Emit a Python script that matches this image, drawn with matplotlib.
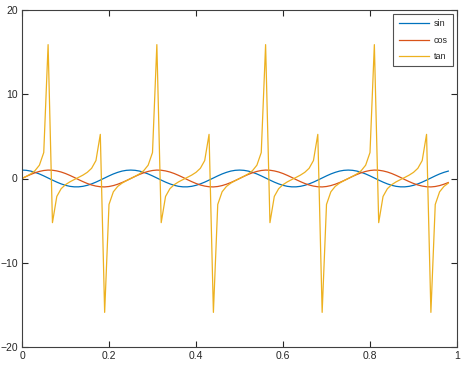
import matplotlib
matplotlib.use("Agg")
import matplotlib.pyplot as plt

x = [0.00, 0.01, 0.02, 0.03, 0.04, 0.05, 0.06, 0.07, 0.08, 0.09,
     0.10, 0.11, 0.12, 0.13, 0.14, 0.15, 0.16, 0.17, 0.18, 0.19,
     0.20, 0.21, 0.22, 0.23, 0.24, 0.25, 0.26, 0.27, 0.28, 0.29,
     0.30, 0.31, 0.32, 0.33, 0.34, 0.35, 0.36, 0.37, 0.38, 0.39,
     0.40, 0.41, 0.42, 0.43, 0.44, 0.45, 0.46, 0.47, 0.48, 0.49,
     0.50, 0.51, 0.52, 0.53, 0.54, 0.55, 0.56, 0.57, 0.58, 0.59,
     0.60, 0.61, 0.62, 0.63, 0.64, 0.65, 0.66, 0.67, 0.68, 0.69,
     0.70, 0.71, 0.72, 0.73, 0.74, 0.75, 0.76, 0.77, 0.78, 0.79,
     0.80, 0.81, 0.82, 0.83, 0.84, 0.85, 0.86, 0.87, 0.88, 0.89,
     0.90, 0.91, 0.92, 0.93, 0.94, 0.95, 0.96, 0.97, 0.98]

# blue line (legend "sin")
y_sin = [1.00, 0.97, 0.88, 0.73, 0.54, 0.31, 0.06, -0.19, -0.43, -0.64,
         -0.81, -0.93, -0.99, -0.99, -0.93, -0.81, -0.64, -0.43, -0.19, 0.06,
         0.31, 0.54, 0.73, 0.88, 0.97,
         1.00, 0.97, 0.88, 0.73, 0.54, 0.31, 0.06, -0.19, -0.43, -0.64,
         -0.81, -0.93, -0.99, -0.99, -0.93, -0.81, -0.64, -0.43, -0.19, 0.06,
         0.31, 0.54, 0.73, 0.88, 0.97,
         1.00, 0.97, 0.88, 0.73, 0.54, 0.31, 0.06, -0.19, -0.43, -0.64,
         -0.81, -0.93, -0.99, -0.99, -0.93, -0.81, -0.64, -0.43, -0.19, 0.06,
         0.31, 0.54, 0.73, 0.88, 0.97,
         1.00, 0.97, 0.88, 0.73, 0.54, 0.31, 0.06, -0.19, -0.43, -0.64,
         -0.81, -0.93, -0.99, -0.99, -0.93, -0.81, -0.64, -0.43, -0.19, 0.06,
         0.31, 0.54, 0.73, 0.88]

# red line (legend "cos")
y_cos = [0.00, 0.25, 0.48, 0.68, 0.84, 0.95, 1.00, 0.98, 0.90, 0.77,
         0.59, 0.37, 0.13, -0.13, -0.37, -0.59, -0.77, -0.90, -0.98, -1.00,
         -0.95, -0.84, -0.68, -0.48, -0.25,
         0.00, 0.25, 0.48, 0.68, 0.84, 0.95, 1.00, 0.98, 0.90, 0.77,
         0.59, 0.37, 0.13, -0.13, -0.37, -0.59, -0.77, -0.90, -0.98, -1.00,
         -0.95, -0.84, -0.68, -0.48, -0.25,
         0.00, 0.25, 0.48, 0.68, 0.84, 0.95, 1.00, 0.98, 0.90, 0.77,
         0.59, 0.37, 0.13, -0.13, -0.37, -0.59, -0.77, -0.90, -0.98, -1.00,
         -0.95, -0.84, -0.68, -0.48, -0.25,
         0.00, 0.25, 0.48, 0.68, 0.84, 0.95, 1.00, 0.98, 0.90, 0.77,
         0.59, 0.37, 0.13, -0.13, -0.37, -0.59, -0.77, -0.90, -0.98, -1.00,
         -0.95, -0.84, -0.68, -0.48]

# yellow line (legend "tan")
y_tan = [0.00, 0.26, 0.55, 0.94, 1.58, 3.08, 15.89, -5.24, -2.13, -1.21,
         -0.73, -0.40, -0.13, 0.13, 0.40, 0.73, 1.21, 2.13, 5.24, -15.89,
         -3.08, -1.58, -0.94, -0.55, -0.26,
         0.00, 0.26, 0.55, 0.94, 1.58, 3.08, 15.89, -5.24, -2.13, -1.21,
         -0.73, -0.40, -0.13, 0.13, 0.40, 0.73, 1.21, 2.13, 5.24, -15.89,
         -3.08, -1.58, -0.94, -0.55, -0.26,
         0.00, 0.26, 0.55, 0.94, 1.58, 3.08, 15.89, -5.24, -2.13, -1.21,
         -0.73, -0.40, -0.13, 0.13, 0.40, 0.73, 1.21, 2.13, 5.24, -15.89,
         -3.08, -1.58, -0.94, -0.55, -0.26,
         0.00, 0.26, 0.55, 0.94, 1.58, 3.08, 15.89, -5.24, -2.13, -1.21,
         -0.73, -0.40, -0.13, 0.13, 0.40, 0.73, 1.21, 2.13, 5.24, -15.89,
         -3.08, -1.58, -0.94, -0.55]

labels = ["sin", "cos", "tan"]
colors = ["#0072BD", "#D95319", "#EDB120"]
x_ticks = [0, 0.2, 0.4, 0.6, 0.8, 1]
x_ticklabels = ["0", "0.2", "0.4", "0.6", "0.8", "1"]
y_ticks = [-20, -10, 0, 10, 20]

plt.rcParams['font.family'] = ['Liberation Sans', 'DejaVu Sans']

fig = plt.figure(figsize=(4.75, 3.72), dpi=100)
ax = fig.add_axes([22/475, 25/372, 435/475, 337/372])

for ys, lab, c in zip([y_sin, y_cos, y_tan], labels, colors):
    ax.plot(x, ys, color=c, lw=0.9, label=lab)

ax.set_xlim(0, 1)
ax.set_ylim(-20, 20)
ax.set_xticks(x_ticks)
ax.set_xticklabels(x_ticklabels)
ax.set_yticks(y_ticks)
ax.tick_params(direction='in', top=True, right=True, length=4, width=0.8,
               labelsize=7.5, colors='#262626', pad=3)
for s in ax.spines.values():
    s.set_color('#404040')
    s.set_linewidth(0.8)

leg = ax.legend(loc='upper right', fontsize=6.5, frameon=True, fancybox=False,
                borderaxespad=0.45, handlelength=3.3, handletextpad=0.55,
                labelspacing=0.8, borderpad=0.6)
leg.get_frame().set_edgecolor('#262626')
leg.get_frame().set_linewidth(0.8)
for t in leg.get_texts():
    t.set_color('#262626')

fig.savefig('out.png', dpi=100)
